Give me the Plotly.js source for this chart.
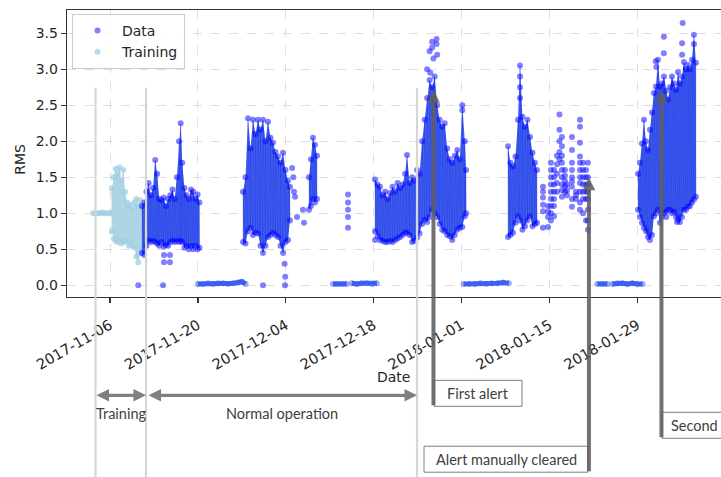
<!DOCTYPE html>
<html><head><meta charset="utf-8">
<script src="https://cdn.plot.ly/plotly-3.0.1.min.js"></script>
<style>html,body{margin:0;padding:0;background:#fff;overflow:hidden}#chart{width:721px;height:477px}</style>
</head><body><div id="chart"></div>
<script>
// All "days" are days since 2017-11-06 00:00
const tickDates = ['2017-11-06','2017-11-20','2017-12-04','2017-12-18','2018-01-01','2018-01-15','2018-01-29'];
const yTicks = [0,0.5,1.0,1.5,2.0,2.5,3.0,3.5];

// Training period
const trainFlatDays = [-2.65,-2.2,-1.7,-1.2,-0.7,-0.2,0.3,0.75];
const trainFlatRMS  = [1.0,1.0,1.0,1.01,1.0,1.0,1.01,1.0];
const trainDays = [0.3,0.6,0.9,1.2,1.5,1.8,2.1,2.4,2.7,3.0,3.3,3.6,3.9,4.2,4.5,4.8,5.1,5.4,5.7];
const trainLo   = [0.75,0.65,0.62,0.6,0.63,0.58,0.6,0.62,0.6,0.55,0.6,0.55,0.52,0.4,0.32,0.45,0.5,0.48,0.55];
const trainHi   = [1.35,1.5,1.62,1.55,1.64,1.45,1.6,1.3,1.15,1.1,1.12,1.05,1.15,1.2,1.1,1.18,1.05,1.1,1.0];

// Data clusters: dense bands (low / high envelope of RMS per time step)
const clusterADays = [5.1,5.45,5.8,6.15,6.5,6.85,7.2,7.5,7.85,8.2,8.55,8.9,9.25,9.6,9.95,10.3,10.65,11.0,11.25,11.5,11.85,12.2,12.55,12.9,13.25,13.6,13.95,14.25];
const clusterALo   = [0.45,0.42,0.55,0.62,0.6,0.62,0.6,0.58,0.55,0.6,0.54,0.56,0.55,0.6,0.62,0.6,0.62,0.6,0.62,0.6,0.52,0.55,0.5,0.55,0.5,0.55,0.5,0.52];
const clusterAHi   = [1.1,1.15,1.3,1.42,1.25,1.35,1.74,1.55,1.2,1.18,1.22,1.1,1.2,1.25,1.33,1.2,1.5,2.0,2.25,1.7,1.35,1.25,1.2,1.33,1.3,1.2,1.26,1.15];

const clusterBDays = [21.18,21.58,21.97,22.37,22.77,23.17,23.57,23.96,24.36,24.76,25.16,25.56,25.96,26.35,26.75,27.15,27.55,27.95,28.34,28.66];
const clusterBLo   = [0.6,0.58,0.75,0.8,0.7,0.73,0.72,0.55,0.45,0.55,0.67,0.7,0.73,0.7,0.67,0.55,0.45,0.6,0.63,0.9];
const clusterBHi   = [1.3,1.5,2.32,1.9,2.3,2.1,2.3,2.16,2.3,2.0,2.27,2.05,1.98,1.85,1.79,1.7,1.84,1.6,1.45,1.37];

const clusterB2Days = [31.69,32.0,32.32,32.64,32.96];
const clusterB2Lo   = [1.05,1.1,1.2,1.15,1.2];
const clusterB2Hi   = [1.5,1.75,2.05,1.95,1.8];

const clusterCDays = [42.2,42.6,43.0,43.4,43.8,44.2,44.6,45.0,45.4,45.8,46.2,46.6,47.0,47.3,47.7,48.1,48.5,48.9,49.3,49.7,50.1,50.5,50.9,51.3,51.7,52.1,52.5,52.9,53.3,53.7,54.1,54.5,54.9,55.3,55.7,56.1,56.5,56.7];
const clusterCLo   = [0.75,0.68,0.63,0.62,0.6,0.6,0.62,0.6,0.63,0.65,0.67,0.7,0.73,0.73,0.7,0.6,0.62,0.66,0.72,0.85,0.91,0.88,0.95,1.05,1.0,0.95,0.85,0.77,0.75,0.7,0.68,0.63,0.7,0.77,0.8,0.81,0.96,1.0];
const clusterCHi   = [1.47,1.4,1.37,1.25,1.3,1.2,1.28,1.37,1.3,1.42,1.35,1.4,1.55,1.81,1.42,1.5,1.45,1.6,1.55,2.0,2.3,2.6,2.85,2.75,2.9,2.5,2.3,2.2,2.25,1.9,1.75,1.7,1.8,1.88,1.75,2.5,2.0,1.6];

const clusterDDays = [63.38,63.77,64.17,64.57,64.97,65.29,65.68,66.08,66.48,66.88,67.28,67.68,68.0];
const clusterDLo   = [0.67,0.7,0.73,0.87,0.96,0.9,0.77,0.82,0.9,0.96,0.82,0.85,0.87];
const clusterDHi   = [1.93,1.7,1.65,1.79,2.3,3.05,2.34,2.2,2.3,2.06,1.84,1.7,1.6];

const clusterFDays = [84.08,84.39,84.71,85.03,85.35,85.67,85.99,86.31,86.62,86.94,87.26,87.58,87.9,88.22,88.54,88.85,89.17,89.49,89.81,90.13,90.45,90.76,91.08,91.4,91.72,92.04,92.36,92.68,92.99,93.31];
const clusterFLo   = [1.05,0.95,0.87,0.8,0.75,0.67,0.63,0.7,0.96,1.0,1.05,0.87,0.95,1.0,1.02,1.05,1.05,1.0,1.02,0.95,0.91,0.88,0.95,1.05,1.05,1.09,1.1,1.15,1.19,1.23];
const clusterFHi   = [1.55,1.7,1.97,2.3,2.0,1.88,2.16,2.4,2.67,2.76,3.13,2.76,2.8,2.9,2.7,2.58,2.75,2.9,2.8,2.71,2.96,2.8,2.9,3.1,3.0,3.06,3.0,3.13,3.48,3.09];

// Near-zero (machine off) runs: [day, RMS]
const zeroRunA  = [[14.0,0.02],[14.8,0.02],[15.6,0.03],[16.4,0.02],[17.2,0.03],[18.0,0.03],[18.8,0.02],[19.6,0.03],[20.4,0.04],[21.0,0.05],[21.6,0.02]];
const zeroRunB1 = [[35.5,0.02],[36.2,0.02],[37.0,0.02],[37.7,0.02]];
const zeroRunB2 = [[38.5,0.03],[39.3,0.02],[40.1,0.03],[40.9,0.03],[41.7,0.02],[42.5,0.03]];
const zeroRunC  = [[56.3,0.02],[57.2,0.02],[58.1,0.02],[59.0,0.03],[59.9,0.02],[60.8,0.03],[61.7,0.03],[62.6,0.04],[63.5,0.03]];
const zeroRunD1 = [[77.6,0.02],[78.4,0.02],[79.2,0.02]];
const zeroRunD2 = [[80.0,0.02],[80.8,0.03],[81.6,0.03],[82.4,0.02],[83.2,0.03],[84.0,0.02],[84.8,0.02]];

// Scattered individual readings: [day, RMS]
const dataPoints = [
 [4.5,0],[8.45,0],[24.36,0],[27.87,0],
 [8.6,0.32],[9.55,0.32],[8.6,0.42],[9.55,0.42],[27.8,0.3],[27.9,0.12],
 [29.0,1.63],[29.2,1.5],[29.3,1.3],[29.46,1.23],[29.78,0.95],[30.73,1.05],[30.89,0.87],
 [37.9,1.26],[37.9,1.15],[37.9,1.05],[37.9,0.95],[37.9,0.8],
 [50.5,3.0],[50.9,3.25],[51.3,3.38],[51.3,3.3],[51.5,3.15],[52.0,3.42],[52.0,3.35],[52.1,3.2],[51.0,2.95],[56.1,2.43],[42.2,0.63],
 [65.29,2.9],[65.29,2.75],[65.29,2.6],
 [68.95,1.37],[68.95,1.22],[68.95,1.03],[68.95,0.8],[68.95,1.3],[68.95,1.12],
 [69.75,1.1],[69.75,0.95],[69.75,0.81],[69.75,1.02],
 [70.22,1.7],[70.22,1.5],[70.22,1.3],[70.22,1.1],[70.22,0.9],[70.22,1.6],[70.22,1.4],[70.22,1.2],[70.22,1.0],
 [70.7,1.6],[70.7,1.4],[70.7,1.2],[70.7,0.96],[70.7,1.5],[70.7,1.3],[70.7,1.1],
 [71.18,1.8],[71.18,1.55],[71.18,1.3],[71.18,1.68],[71.18,1.42],
 [71.58,2.37],[71.58,2.16],[71.58,2.0],[71.58,1.85],[71.58,1.75],
 [71.97,2.06],[71.97,1.8],[71.97,1.6],[71.97,1.4],[71.97,1.23],[71.97,1.93],[71.97,1.7],[71.97,1.5],[71.97,1.32],
 [72.45,1.6],[72.45,1.45],[72.45,1.3],[72.45,1.52],[72.45,1.38],[72.77,1.4],[72.77,1.25],[72.77,1.32],
 [73.57,2.06],[73.57,1.88],[73.57,1.7],[73.57,1.5],[73.57,1.37],[73.57,1.09],[73.57,1.6],[73.57,1.44],[73.57,1.2],
 [74.2,1.3],[74.2,1.2],[74.2,1.25],
 [74.84,2.3],[74.84,2.2],[74.84,1.98],[74.84,1.79],[74.84,1.6],[74.84,1.42],[74.84,1.05],[74.84,1.7],[74.84,1.5],[74.84,1.3],[74.84,1.15],
 [75.32,1.7],[75.32,1.5],[75.32,1.3],[75.32,1.0],[75.32,1.6],[75.32,1.4],[75.32,1.2],
 [75.8,1.6],[75.8,1.4],[75.8,1.2],[75.8,0.9],[75.8,1.5],[75.8,1.3],
 [76.11,1.7],[76.11,1.5],[76.11,1.3],[76.11,1.05],[76.11,0.77],[76.11,1.4],[76.11,1.2],[76.11,0.9],
 [88.2,3.45],[88.2,3.22],[91.2,3.64],[91.1,3.36],[91.1,3.2],[93.0,3.35],[86.9,3.11],[87.0,3.03],[88.6,0.95],[90.3,0.88]
];

// Event dates used by the annotations
const trainingStart = '2017-11-03 16:30';
const trainingEnd   = '2017-11-11 17:30';
const normalEnd     = '2017-12-24 21:20';
const firstAlert    = '2017-12-27 12:15';
const alertCleared  = '2018-01-21 06:30';
const secondAlert   = '2018-02-01 19:40';

// ---------- helpers ----------
const DAY = 86400000, BASE = Date.UTC(2017,10,6);
const toMs = d => BASE + d*DAY;
const msStr = ms => new Date(ms).toISOString().replace('T',' ').replace('Z','');
const L=67, T=10, PW=654, PH=287.5, B=477-T-PH;
const PX = p => (p-L)/PW, PY = p => (T+PH-p)/PH;

const DATA_FILL = 'rgb(64,96,234)';
const DATA_MK = 'rgba(0,0,255,0.5)';
const TRAIN_FILL = 'rgb(188,222,234)';
const TRAIN_MK = 'rgba(160,208,226,0.75)';

function band(days, lo, hi, fill){
  return {type:'scatter', mode:'lines', x: days.concat(days.slice().reverse()).map(toMs),
    y: hi.concat(lo.slice().reverse()), fill:'toself', fillcolor:fill, line:{width:0},
    showlegend:false, hoverinfo:'skip'};
}
function stripes(days, lo, hi, color){
  const x=[], y=[];
  days.forEach((d,i)=>{x.push(toMs(d),toMs(d)); y.push(lo[i],hi[i]);});
  return {type:'scatter', mode:'lines', x, y, line:{width:1,color}, showlegend:false, hoverinfo:'skip'};
}
function run(pairs, color, mk){
  return {type:'scatter', mode:'lines+markers', x:pairs.map(p=>toMs(p[0])), y:pairs.map(p=>p[1]),
    line:{width:5,color}, marker:{size:6,color:mk}, showlegend:false, hoverinfo:'skip'};
}

const clusters = [
  [clusterADays, clusterALo, clusterAHi],
  [clusterBDays, clusterBLo, clusterBHi],
  [clusterB2Days, clusterB2Lo, clusterB2Hi],
  [clusterCDays, clusterCLo, clusterCHi],
  [clusterDDays, clusterDLo, clusterDHi],
  [clusterFDays, clusterFLo, clusterFHi]
];

const traces = [];
traces.push(run(trainFlatDays.map((d,i)=>[d,trainFlatRMS[i]]), 'rgb(190,222,235)', TRAIN_MK));
traces.push(band(trainDays, trainLo, trainHi, TRAIN_FILL));
traces.push(stripes(trainDays, trainLo, trainHi, 'rgba(150,200,222,0.4)'));
traces.push({type:'scatter', mode:'markers', name:'Training', legendrank:2,
  x: trainDays.concat(trainDays).map(toMs), y: trainLo.concat(trainHi),
  marker:{size:6,color:TRAIN_MK}, hoverinfo:'skip'});
[zeroRunA, zeroRunB1, zeroRunB2, zeroRunC, zeroRunD1, zeroRunD2].forEach(r=>traces.push(run(r,'rgb(80,118,240)','rgba(40,70,245,0.45)')));
clusters.forEach(c=>{ traces.push(band(c[0],c[1],c[2],DATA_FILL)); traces.push(stripes(c[0],c[1],c[2],'rgba(10,20,240,0.2)')); });
let dx=[], dy=[];
clusters.forEach(c=>{ dx=dx.concat(c[0],c[0]); dy=dy.concat(c[1],c[2]); });
dataPoints.forEach(p=>{dx.push(p[0]); dy.push(p[1]);});
traces.push({type:'scatter', mode:'markers', name:'Data', legendrank:1,
  x: dx.map(toMs), y: dy, marker:{size:6,color:DATA_MK}, hoverinfo:'skip'});

const TXT = {family:'Lato, "Open Sans", sans-serif', size:14.5, color:'#404040'};
const AX = {family:'DejaVu Sans', size:14, color:'#262626'};
const XT = {family:'DejaVu Sans', size:14.6, color:'#262626'};
const ARROW_H = 'rgb(128,128,128)';
const ARROW_V = 'rgba(95,95,95,0.88)';
const note = (px, py, text, xa) => ({xref:'paper', yref:'paper', x:PX(px), y:PY(py), text, showarrow:false,
  xanchor:xa||'center', yanchor:'middle', font:TXT});

const layout = {
  width:721, height:477,
  margin:{l:L, r:721-L-PW, t:T, b:B, pad:0},
  paper_bgcolor:'#fff', plot_bgcolor:'#fff',
  showlegend:true,
  legend:{x:PX(72), y:PY(14), xanchor:'left', yanchor:'top', bgcolor:'rgba(255,255,255,0.85)',
    bordercolor:'#cccccc', borderwidth:1, font:AX, traceorder:'normal', itemwidth:39},
  xaxis:{type:'date', range:[msStr(toMs(-6.85)), msStr(toMs(97.3))], tickvals:tickDates, ticktext:tickDates,
    tickangle:-30, ticks:'outside', ticklen:5, tickwidth:1.2, tickcolor:'#333', ticklabelstandoff:8,
    showline:true, linecolor:'#333', linewidth:1.3, mirror:true,
    showgrid:true, gridcolor:'#dedede', griddash:'dash', gridwidth:1, zeroline:false,
    tickfont:XT, automargin:false},
  yaxis:{range:[-0.162,3.822], tickvals:yTicks, tickformat:'.1f', ticks:'outside', ticklen:5, tickwidth:1.2, tickcolor:'#333',
    showline:true, linecolor:'#333', linewidth:1.3, mirror:false,
    showgrid:true, gridcolor:'#dedede', griddash:'dash', gridwidth:1, zeroline:false,
    tickfont:AX, automargin:false},
  shapes:[
    ...[trainingStart, trainingEnd, normalEnd].map(d=>({type:'line', xref:'x', yref:'paper', x0:d, x1:d, y0:PY(490), y1:PY(88),
      line:{color:'#d6d6d6', width:2.2}, layer:'above'})),
    {type:'rect', xref:'paper', yref:'paper', x0:PX(434), x1:PX(522), y0:PY(407), y1:PY(381), line:{color:'#7f7f7f',width:1}, fillcolor:'#fff', layer:'above'},
    {type:'rect', xref:'paper', yref:'paper', x0:PX(424), x1:PX(588), y0:PY(473), y1:PY(447), line:{color:'#7f7f7f',width:1}, fillcolor:'#fff', layer:'above'},
    {type:'rect', xref:'paper', yref:'paper', x0:PX(662), x1:PX(780), y0:PY(439), y1:PY(413), line:{color:'#7f7f7f',width:1}, fillcolor:'#fff', layer:'above'}
  ],
  annotations:[
    {xref:'paper', yref:'paper', x:PX(20), y:PY(160), xanchor:'center', yanchor:'middle', text:'RMS', textangle:-90, showarrow:false, font:AX},
    {xref:'paper', yref:'paper', x:PX(393), y:PY(378), xanchor:'center', yanchor:'middle', text:'Date', showarrow:false, font:AX},
    {xref:'x', yref:'paper', x:trainingEnd, y:PY(396), ax:-51, ay:0, text:'', showarrow:true, arrowside:'end+start',
      arrowhead:2, startarrowhead:2, arrowsize:0.76, startarrowsize:0.76, arrowwidth:3.3, arrowcolor:ARROW_H, standoff:0, startstandoff:0},
    {xref:'x', yref:'paper', x:normalEnd, y:PY(396), ax:-270, ay:0, text:'', showarrow:true, arrowside:'end+start',
      arrowhead:2, startarrowhead:2, arrowsize:0.76, startarrowsize:0.76, arrowwidth:3.3, arrowcolor:ARROW_H, standoff:0, startstandoff:0},
    {xref:'x', yref:'paper', x:firstAlert, y:PY(90), ax:0, ay:317, text:'', showarrow:true,
      arrowhead:2, arrowsize:0.63, arrowwidth:4, arrowcolor:ARROW_V, standoff:0},
    {xref:'x', yref:'paper', x:alertCleared, y:PY(178), ax:0, ay:295, text:'', showarrow:true,
      arrowhead:2, arrowsize:0.63, arrowwidth:4, arrowcolor:ARROW_V, standoff:0},
    {xref:'x', yref:'paper', x:secondAlert, y:PY(90), ax:0, ay:349, text:'', showarrow:true,
      arrowhead:2, arrowsize:0.63, arrowwidth:4, arrowcolor:ARROW_V, standoff:0},
    note(121, 414, 'Training'),
    note(281.5, 414, 'Normal operation'),
    note(478, 394, 'First alert'),
    note(506, 460, 'Alert manually cleared'),
    note(669, 426, 'Second alert', 'left')
  ]
};

Plotly.newPlot('chart', traces, layout, {staticPlot:true, displayModeBar:false});
</script>
</body></html>
